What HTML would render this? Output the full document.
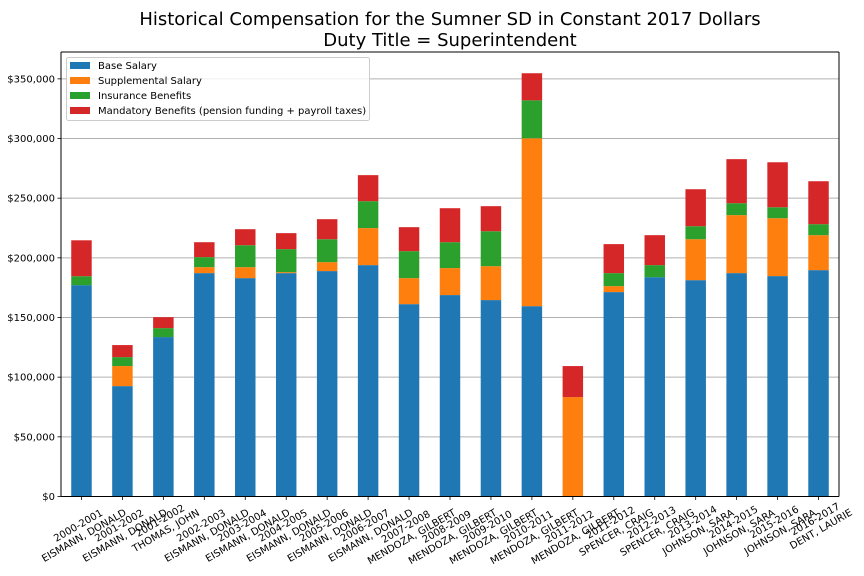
<!DOCTYPE html>
<html><head><meta charset="utf-8"><style>
body{margin:0;background:#fff;font-family:"DejaVu Sans","Liberation Sans",sans-serif;}
#wrap{position:relative;width:864px;height:576px;overflow:hidden}
svg text{font-family:"DejaVu Sans","Liberation Sans",sans-serif;}
</style></head><body>
<div id="wrap">
<svg id="chart" width="864" height="576"></svg>
</div>
<script>
const categories=[["2000-2001","EISMANN, DONALD"],["2001-2002","EISMANN, DONALD"],["2001-2002","THOMAS, JOHN"],["2002-2003","EISMANN, DONALD"],["2003-2004","EISMANN, DONALD"],["2004-2005","EISMANN, DONALD"],["2005-2006","EISMANN, DONALD"],["2006-2007","EISMANN, DONALD"],["2007-2008","MENDOZA, GILBERT"],["2008-2009","MENDOZA, GILBERT"],["2009-2010","MENDOZA, GILBERT"],["2010-2011","MENDOZA, GILBERT"],["2011-2012","MENDOZA, GILBERT"],["2011-2012","SPENCER, CRAIG"],["2012-2013","SPENCER, CRAIG"],["2013-2014","JOHNSON, SARA"],["2014-2015","JOHNSON, SARA"],["2015-2016","JOHNSON, SARA"],["2016-2017","DENT, LAURIE"]];
const baseSalary=[177.1,92.5,133.6,187.2,183.0,187.2,188.9,193.9,161.2,168.8,164.6,159.5,0,171.3,183.8,181.3,187.2,184.7,189.7];
const supplementalSalary=[0,16.8,0,5.0,9.2,0.8,7.5,31.0,21.8,22.6,28.4,140.7,83.3,5.0,0,34.3,48.6,48.5,29.3];
const insuranceBenefits=[7.5,7.5,7.5,8.4,18.4,19.3,19.2,22.6,22.6,21.7,29.3,31.8,0,10.9,10.1,10.9,10.0,9.2,9.2];
const mandatoryBenefits=[30.1,10.1,9.2,12.5,13.4,13.4,16.8,21.8,20.1,28.5,21.0,22.7,26.0,24.3,25.1,31.0,36.9,37.7,36.0];
const yTicks=[0,50,100,150,200,250,300,350];
const seriesNames=["Base Salary","Supplemental Salary","Insurance Benefits","Mandatory Benefits (pension funding + payroll taxes)"];
const seriesColors=["#1f77b4","#ff7f0e","#2ca02c","#d62728"];

const NS="http://www.w3.org/2000/svg";
const svg=document.getElementById('chart');
const L=61,R=839,T=52,B=496.5;
const yMax=372.5;
const y=v=>B-v/yMax*(B-T);
const step=(R-L)/categories.length;
const xc=i=>L+step*(i+0.5);
const bw=step*0.5;
function mk(tag,attrs,parent){const e=document.createElementNS(NS,tag);for(const k in attrs)e.setAttribute(k,attrs[k]);(parent||svg).appendChild(e);return e;}
yTicks.forEach(t=>{
 const g=mk('line',{x1:L,x2:R,y1:y(t),y2:y(t),stroke:'#b0b0b0','stroke-width':1});
 
 
 const tk=mk('line',{x1:L-3.5,x2:L,y1:y(t),y2:y(t),stroke:'#000','stroke-width':0.8});
 
 
 const tx=mk('text',{x:L-6,y:y(t)+3.5,'text-anchor':'end','font-size':10,fill:'#000'});
 tx.textContent='$'+(t===0?'0':t.toLocaleString('en-US')+',000');
 
 
});
const series=[baseSalary,supplementalSalary,insuranceBenefits,mandatoryBenefits];
const segNames=['base-salary','supplemental-salary','insurance-benefits','mandatory-benefits'];
categories.forEach((c,i)=>{
 let acc=0;
 series.forEach((s,k)=>{
  const v=s[i];
  if(v>0){
   const r=mk('rect',{x:xc(i)-bw/2,y:y(acc+v),width:bw,height:y(acc)-y(acc+v),fill:seriesColors[k]});
   
   
  }
  acc+=v;
 });
 const tk=mk('line',{x1:xc(i),x2:xc(i),y1:B,y2:B+3.5,stroke:'#000','stroke-width':0.8});
 
 
 const g=mk('g',{});
 
 
 const t=mk('text',{'text-anchor':'middle','font-size':10,fill:'#000'},g);
 const t1=mk('tspan',{x:0,dy:0},t);t1.textContent=c[0];
 const t2=mk('tspan',{x:0,dy:11.5},t);t2.textContent=c[1];
 const bb=t.getBBox();
 const w=bb.width,h=bb.height;
 const rh=w*0.5+h*0.866;
 const cy=B+1+rh/2;
 const ccx=xc(i);
 g.setAttribute('transform',`translate(${ccx},${cy}) rotate(-30) translate(0,${-(bb.y+h/2)})`);
});
[[L,T,L,B],[R,T,R,B],[L,T,R,T],[L,B,R,B]].forEach(a=>{
 const l=mk('line',{x1:a[0],y1:a[1],x2:a[2],y2:a[3],stroke:'#000','stroke-width':1});
 
 
});
const ti=mk('text',{x:450,y:25,'text-anchor':'middle','font-size':18,fill:'#000'});
ti.textContent='Historical Compensation for the Sumner SD in Constant 2017 Dollars';


const ti2=mk('text',{x:450,y:46,'text-anchor':'middle','font-size':18,fill:'#000'});
ti2.textContent='Duty Title = Superintendent';


const lg=mk('g',{});


mk('rect',{x:66.5,y:57.5,width:303,height:63,rx:2,fill:'#fff','fill-opacity':0.8,stroke:'#ccc'},lg);
seriesNames.forEach((n,k)=>{
 const yy=65+k*15;
 const sw=mk('rect',{x:70,y:yy-3,width:20,height:7,fill:seriesColors[k]},lg);
 
 
 const tx=mk('text',{x:98,y:yy+4,'font-size':10,fill:'#000'},lg);
 tx.textContent=n;
 
 
});
</script>
</body></html>
